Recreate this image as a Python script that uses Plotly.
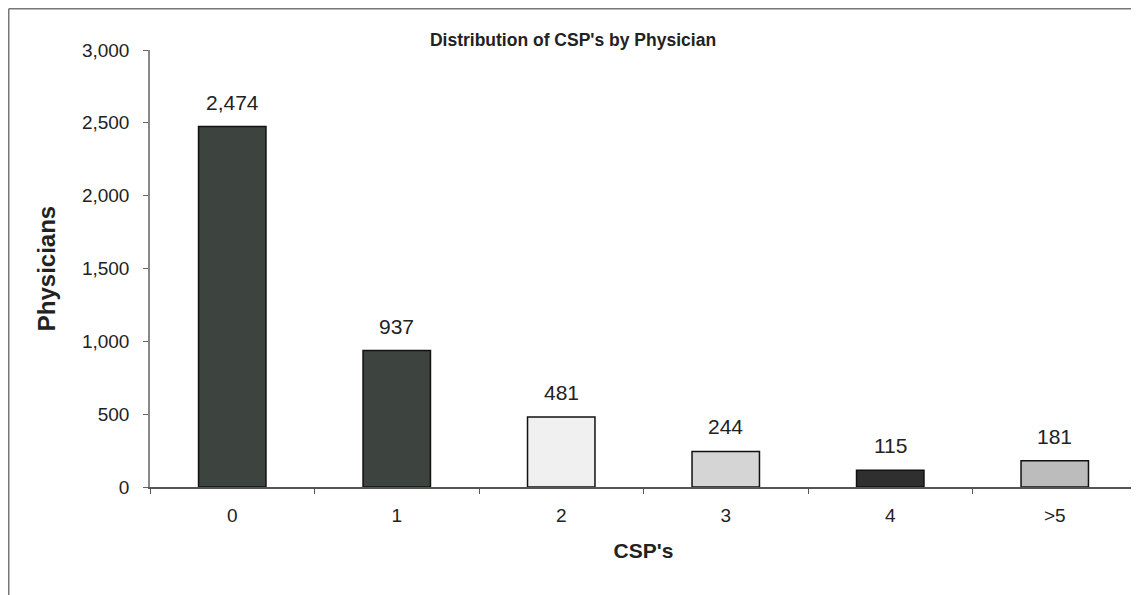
import plotly.graph_objects as go

categories = ["0", "1", "2", "3", "4", ">5"]
physicians = [2474, 937, 481, 244, 115, 181]
bar_colors = ["#3d433e", "#3d433e", "#f0f0f0", "#d5d5d5", "#2f2f2f", "#bcbcbc"]
value_labels = ["2,474", "937", "481", "244", "115", "181"]

FONT = "Liberation Sans, Arial, sans-serif"

# page body has an 8px margin; figure coordinates = page coordinates - 8
W, H = 1131, 587
L, R, T, B = 142, 1129, 42, 479

def px_x(px):
    return (px - L) / (R - L)
def px_y(py):
    return (B - py) / (B - T)

fig = go.Figure()
fig.add_trace(go.Bar(
    x=categories, y=physicians,
    marker=dict(color=bar_colors, line=dict(color="#111111", width=1.5)),
    showlegend=False, hoverinfo="x+y",
))

for c, v, t in zip(categories, physicians, value_labels):
    fig.add_annotation(x=c, y=v, text=t, showarrow=False, yanchor="bottom",
                       yshift=11, font=dict(family=FONT, size=21, color="#222222"))

# outer frame (top and left edges)
fig.add_shape(type="line", xref="paper", yref="paper",
              x0=px_x(0.75), x1=px_x(W), y0=px_y(0.75), y1=px_y(0.75),
              line=dict(color="#777777", width=1.5))
fig.add_shape(type="line", xref="paper", yref="paper",
              x0=px_x(0.75), x1=px_x(0.75), y0=px_y(0.75), y1=px_y(H),
              line=dict(color="#777777", width=1.5))

fig.update_layout(
    width=W, height=H,
    margin=dict(l=L, r=W - R, t=T, b=H - B),
    paper_bgcolor="white", plot_bgcolor="white",
    bargap=0.59,
    font=dict(family=FONT, color="#222222"),
    title=dict(text="<b>Distribution of CSP's by Physician</b>",
               x=565 / W, xref="container", xanchor="center",
               y=1 - 32 / H, yref="container", yanchor="middle",
               font=dict(family=FONT, size=17.5, color="#222222")),
    xaxis=dict(
        showline=True, linecolor="#555555", linewidth=1.5,
        ticks="outside", ticklen=5, tickcolor="#555555", tickson="boundaries",
        tickfont=dict(family=FONT, size=19, color="#222222"),
        ticklabelstandoff=10,
        title=dict(text="<b>CSP's</b>", font=dict(family=FONT, size=21, color="#222222"), standoff=19),
        showgrid=False,
    ),
    yaxis=dict(
        range=[0, 3000], tickvals=[0, 500, 1000, 1500, 2000, 2500, 3000],
        tickformat=",",
        showline=True, linecolor="#888888", linewidth=1.5,
        ticks="outside", ticklen=5, tickcolor="#666666",
        tickfont=dict(family=FONT, size=19, color="#222222"),
        ticklabelstandoff=10,
        title=dict(text="<b>Physicians</b>", font=dict(family=FONT, size=24, color="#222222"), standoff=20),
        showgrid=False, zeroline=False,
    ),
)

fig.write_html("out.html")
